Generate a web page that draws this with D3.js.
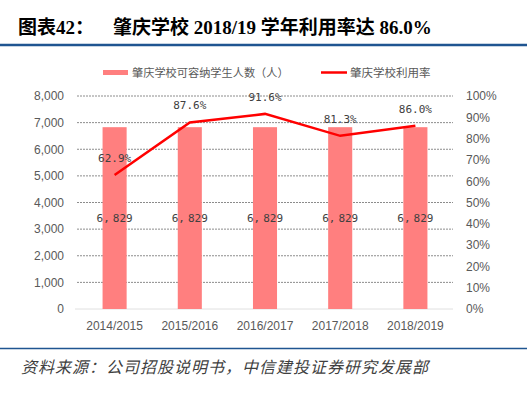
<!DOCTYPE html>
<html>
<head>
<meta charset="utf-8">
<script src="https://cdn.jsdelivr.net/npm/d3@7"></script>
<style>
  body { margin: 0; background: #fff; }
  svg { display: block; }
</style>
</head>
<body>
<div id="chart"></div>
<script>
var years = ["2014/2015", "2015/2016", "2016/2017", "2017/2018", "2018/2019"];
var capacity = [6829, 6829, 6829, 6829, 6829];
var usage = [62.9, 87.6, 91.6, 81.3, 86.0];
var leftTicks = [0, 1000, 2000, 3000, 4000, 5000, 6000, 7000, 8000];
var rightTicks = [0, 10, 20, 30, 40, 50, 60, 70, 80, 90, 100];

var width = 527, height = 393;
var plot = {left: 77, right: 453, top: 96, bottom: 309};

var svg = d3.select("#chart").append("svg")
    .attr("width", width)
    .attr("height", height);

// title
var title = svg.append("text")
    .attr("x", 18).attr("y", 34)
    .attr("font-family", "'Liberation Serif', 'Noto Sans CJK SC', serif")
    .attr("font-weight", "bold")
    .attr("font-size", 19)
    .attr("fill", "#000");
title.append("tspan").text("图表42：");
title.append("tspan").attr("x", 113).text("肇庆学校 2018/19 学年利用率达 86.0%");

svg.append("line")
    .attr("x1", 0).attr("x2", width).attr("y1", 45).attr("y2", 45)
    .attr("stroke", "#1f5591").attr("stroke-width", 2.5);

var x = d3.scaleBand().domain(years).range([plot.left, plot.right]).paddingInner(0.68).paddingOuter(0.34);
var yL = d3.scaleLinear().domain([0, 8000]).range([plot.bottom, plot.top]);
var yR = d3.scaleLinear().domain([0, 100]).range([plot.bottom, plot.top]);

var axisFont = "'Liberation Sans', Arial, sans-serif";

// gridlines
svg.append("g")
  .selectAll("line")
  .data(leftTicks.filter(function(d) { return d > 0; }))
  .enter().append("line")
    .attr("x1", plot.left).attr("x2", plot.right)
    .attr("y1", function(d) { return yL(d); })
    .attr("y2", function(d) { return yL(d); })
    .attr("stroke", "#8c8c8c")
    .attr("stroke-width", 1)
    .attr("stroke-dasharray", "2,1");

svg.append("line")
    .attr("x1", plot.left - 2).attr("x2", plot.right)
    .attr("y1", plot.bottom).attr("y2", plot.bottom)
    .attr("stroke", "#e0e0e0").attr("stroke-width", 1);

// left axis
var gl = svg.append("g")
    .attr("transform", "translate(" + (plot.left - 10) + ",0)")
    .call(d3.axisLeft(yL).tickValues(leftTicks).tickSize(0).tickFormat(d3.format(",")));
gl.select(".domain").remove();
gl.selectAll("text")
    .attr("font-family", axisFont).attr("font-size", 12).attr("fill", "#595959");

// right axis
var gr = svg.append("g")
    .attr("transform", "translate(" + (plot.right + 10) + ",0)")
    .call(d3.axisRight(yR).tickValues(rightTicks).tickSize(0).tickFormat(function(d) { return d + "%"; }));
gr.select(".domain").remove();
gr.selectAll("text")
    .attr("font-family", axisFont).attr("font-size", 12).attr("fill", "#595959");

// x axis
var gx = svg.append("g")
    .attr("transform", "translate(0," + (plot.bottom + 9) + ")")
    .call(d3.axisBottom(x).tickSize(0));
gx.select(".domain").remove();
gx.selectAll("text")
    .attr("font-family", axisFont).attr("font-size", 12).attr("fill", "#595959");

// bars
svg.append("g")
  .selectAll("rect")
  .data(capacity)
  .enter().append("rect")
    .attr("x", function(d, i) { return x(years[i]); })
    .attr("width", x.bandwidth())
    .attr("y", function(d) { return yL(d); })
    .attr("height", function(d) { return plot.bottom - yL(d); })
    .attr("fill", "#ff7f7f");

var labelFont = "'DejaVu Sans Mono', 'Liberation Mono', monospace";

var barLabels = svg.append("g")
  .selectAll("text")
  .data(capacity)
  .enter().append("text")
    .attr("x", function(d, i) { return x(years[i]) + x.bandwidth() / 2; })
    .attr("y", function(d) { return (yL(d) + plot.bottom) / 2 + 4; })
    .attr("text-anchor", "middle")
    .attr("font-family", labelFont).attr("font-size", 11).attr("fill", "#404040");
barLabels.each(function(d) {
  var parts = d3.format(",")(d).split(",");
  var t = d3.select(this);
  t.append("tspan").text(parts[0] + ",");
  t.append("tspan").attr("dx", 3).text(parts[1]);
});

// line
var line = d3.line()
    .x(function(d, i) { return x(years[i]) + x.bandwidth() / 2; })
    .y(function(d) { return yR(d); });

svg.append("path")
    .datum(usage)
    .attr("d", line)
    .attr("fill", "none")
    .attr("stroke", "#ff0000")
    .attr("stroke-width", 2.5);

svg.append("g")
  .selectAll("text")
  .data(usage)
  .enter().append("text")
    .attr("x", function(d, i) { return x(years[i]) + x.bandwidth() / 2; })
    .attr("y", function(d) { return yR(d) - 13; })
    .attr("text-anchor", "middle")
    .attr("font-family", labelFont).attr("font-size", 11).attr("fill", "#404040")
    .text(function(d) { return d.toFixed(1) + "%"; });

// legend
var legendFont = "'Noto Sans CJK SC', sans-serif";
svg.append("rect")
    .attr("x", 103).attr("y", 70).attr("width", 25).attr("height", 5)
    .attr("fill", "#ff7f7f");
svg.append("text")
    .attr("x", 132).attr("y", 76.5)
    .attr("font-family", legendFont).attr("font-size", 11.2).attr("fill", "#595959")
    .text("肇庆学校可容纳学生人数（人）");
svg.append("line")
    .attr("x1", 321).attr("x2", 347).attr("y1", 72.5).attr("y2", 72.5)
    .attr("stroke", "#ff0000").attr("stroke-width", 2.5);
svg.append("text")
    .attr("x", 350).attr("y", 76.5)
    .attr("font-family", legendFont).attr("font-size", 11.5).attr("fill", "#595959")
    .text("肇庆学校利用率");

// footer
svg.append("line")
    .attr("x1", 0).attr("x2", width).attr("y1", 348.5).attr("y2", 348.5)
    .attr("stroke", "#1f5591").attr("stroke-width", 1.5);
svg.append("text")
    .attr("x", 21).attr("y", 373)
    .attr("font-family", "'Noto Sans CJK SC', serif")
    .attr("font-style", "italic")
    .attr("font-size", 16)
    .attr("letter-spacing", 1)
    .attr("fill", "#404040")
    .text("资料来源：公司招股说明书，中信建投证券研究发展部");
</script>
</body>
</html>
